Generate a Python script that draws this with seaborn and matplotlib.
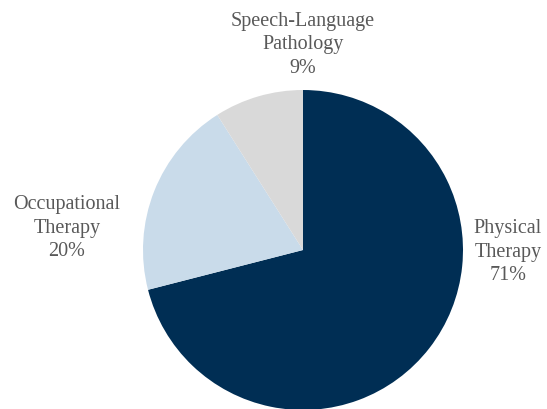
import matplotlib
matplotlib.use("Agg")
import matplotlib.pyplot as plt
import seaborn as sns

categories = ["Physical\nTherapy", "Occupational\nTherapy", "Speech-Language\nPathology"]
values = [71, 20, 9]
colors = ["#002E54", "#C9DBEA", "#D9D9D9"]

sns.set_theme(style="white")
plt.rcParams['font.family'] = ['Liberation Serif', 'DejaVu Serif']

W, H = 547, 409
fig = plt.figure(figsize=(W / 100, H / 100), dpi=100)
ax = fig.add_axes([0, 0, 1, 1])

cx, cy, r = 303, H - 250, 160
ax.pie(values, colors=colors, startangle=90, counterclock=False,
       center=(cx, cy), radius=r, frame=True,
       wedgeprops=dict(linewidth=0))
ax.set_xlim(0, W)
ax.set_ylim(0, H)
ax.set_aspect("equal")
ax.axis("off")

label_pos = [(508, H - 252), (67, H - 228), (303, H - 45)]
for lab, v, (x, y) in zip(categories, values, label_pos):
    ax.text(x, y, f"{lab}\n{v}%", ha="center", va="center",
            fontsize=14.5, color="#595959", linespacing=1.3)

fig.savefig("out.png", dpi=100)
